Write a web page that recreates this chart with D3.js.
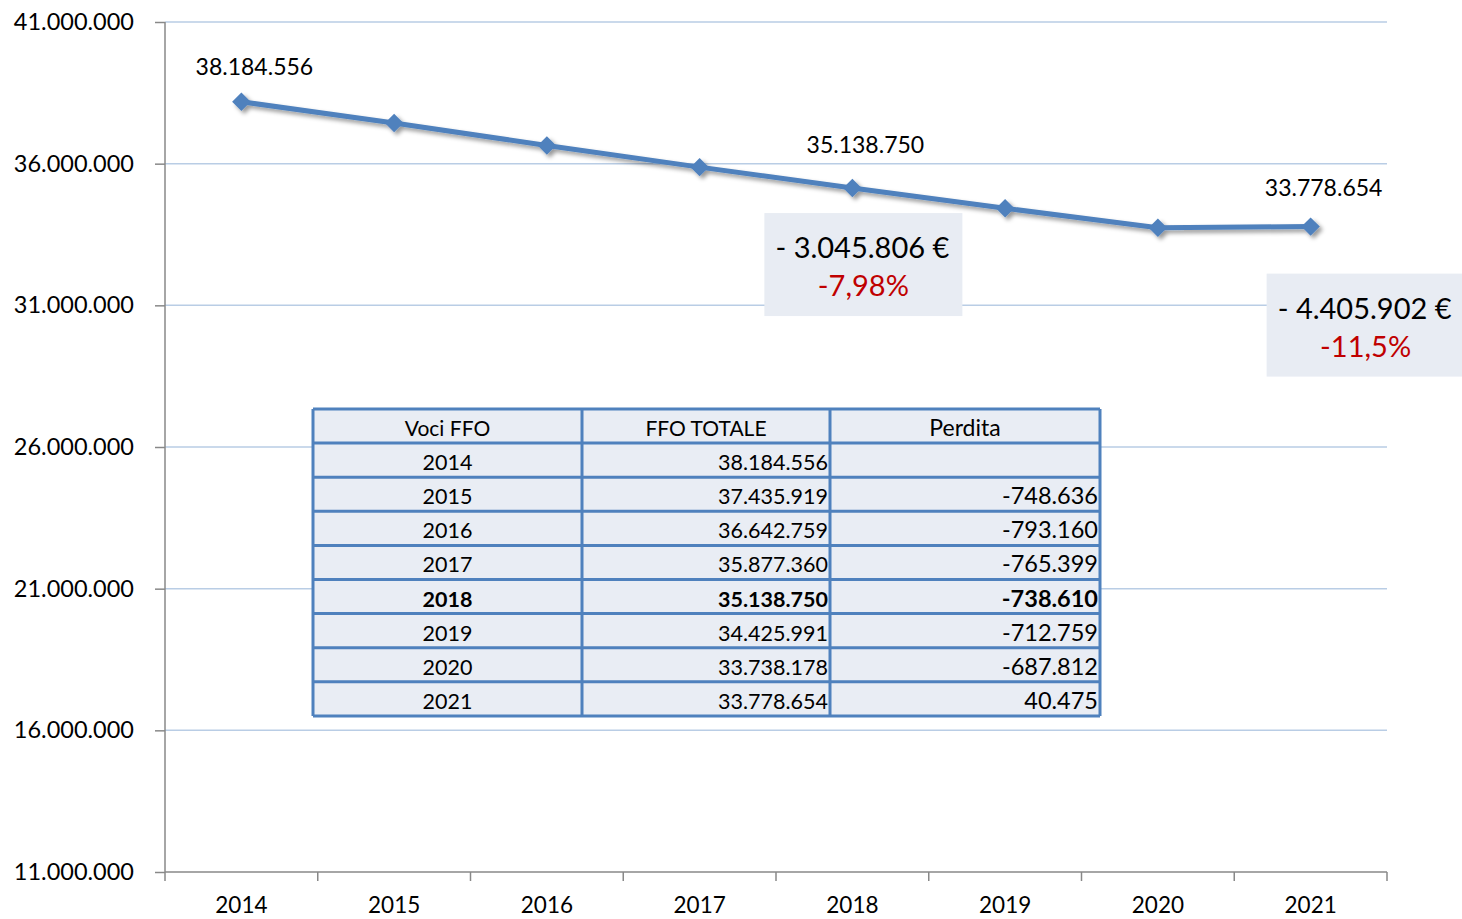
<!DOCTYPE html>
<html>
<head>
<meta charset="utf-8">
<script src="https://cdn.jsdelivr.net/npm/d3@7"></script>
<style>
  body { margin: 0; background: #fff; }
  text { font-family: Lato, "Open Sans", sans-serif; }
</style>
</head>
<body>
<div id="viz"></div>
<script>
const years = ["2014", "2015", "2016", "2017", "2018", "2019", "2020", "2021"];
const ffo = [38184556, 37435919, 36642759, 35877360, 35138750, 34425991, 33738178, 33778654];
const perdita = [null, -748636, -793160, -765399, -738610, -712759, -687812, 40475];
const yTicks = [11000000, 16000000, 21000000, 26000000, 31000000, 36000000, 41000000];
const labelled = ["2014", "2018", "2021"];
const boxes = [
  {at: "2018", loss: "- 3.045.806 €", pct: "-7,98%"},
  {at: "2021", loss: "- 4.405.902 €", pct: "-11,5%"}
];
const tableHead = ["Voci FFO", "FFO TOTALE", "Perdita"];
const boldYear = "2018";

const W = 1462, H = 919;
const m = {left: 165, right: 1387, top: 22, bottom: 872};

const fmt = v => d3.format(",")(v).replace(/,/g, ".").replace("−", "-");

const svg = d3.select("#viz").append("svg")
  .attr("width", W).attr("height", H);

const defs = svg.append("defs");
const f = defs.append("filter").attr("id", "shadow")
  .attr("x", "-10%").attr("y", "-10%").attr("width", "120%").attr("height", "140%");
f.append("feDropShadow").attr("dx", 3).attr("dy", 3).attr("stdDeviation", 2)
  .attr("flood-color", "#000").attr("flood-opacity", 0.4);

const x = d3.scaleBand().domain(years).range([m.left, m.right]);
const y = d3.scaleLinear().domain([11000000, 41000000]).range([m.bottom, m.top]);

// gridlines
svg.append("g").selectAll("line").data(yTicks.slice(1)).join("line")
  .attr("x1", m.left).attr("x2", m.right)
  .attr("y1", d => y(d)).attr("y2", d => y(d))
  .attr("stroke", "#b9cde5").attr("stroke-width", 1.5);

// y axis
const yAxis = svg.append("g").attr("transform", `translate(${m.left},0)`)
  .call(d3.axisLeft(y).tickValues(yTicks).tickSize(10).tickPadding(21).tickFormat(fmt));
yAxis.selectAll("line, path").attr("stroke", "#888").attr("stroke-width", 1.5);
yAxis.select(".domain").attr("d", `M0,${m.top}V${m.bottom}`);
yAxis.selectAll("text").attr("font-size", 23.5).attr("fill", "#000")
  .attr("font-family", "Lato, sans-serif");

// x axis
const xAxis = svg.append("g").attr("transform", `translate(0,${m.bottom})`)
  .call(d3.axisBottom(x).tickSize(0).tickPadding(25));
xAxis.select(".domain").attr("stroke", "#888").attr("stroke-width", 1.5)
  .attr("d", `M${m.left},0H${m.right}`);
xAxis.selectAll("text").attr("font-size", 22.5).attr("fill", "#000")
  .attr("font-family", "Lato, sans-serif");
xAxis.selectAll(".bnd").data(years.concat(["end"])).join("line")
  .attr("x1", (d, i) => m.left + i * x.step()).attr("x2", (d, i) => m.left + i * x.step())
  .attr("y1", 0).attr("y2", 9).attr("stroke", "#888").attr("stroke-width", 1.5);

// line
const cx = d => x(d) + x.bandwidth() / 2;
const lineG = svg.append("g").attr("filter", "url(#shadow)");
lineG.append("path")
  .datum(years.map((d, i) => [cx(d), y(ffo[i])]))
  .attr("d", d3.line())
  .attr("fill", "none").attr("stroke", "#4f81bd").attr("stroke-width", 5)
  .attr("stroke-linejoin", "round");
lineG.selectAll("path.mk").data(years).join("path").attr("class", "mk")
  .attr("transform", (d, i) => `translate(${cx(d)},${y(ffo[i])}) rotate(45)`)
  .attr("d", d3.symbol(d3.symbolSquare, 170)())
  .attr("fill", "#4f81bd");

// data labels
const labelLift = {"2014": 27, "2018": 35, "2021": 31};
svg.append("g").selectAll("text").data(labelled).join("text")
  .attr("x", d => cx(d) + 13)
  .attr("y", d => y(ffo[years.indexOf(d)]) - labelLift[d])
  .attr("text-anchor", "middle").attr("font-size", 23)
  .text(d => fmt(ffo[years.indexOf(d)]));

// annotation boxes
const bw = 198, bh = 103;
const bg = svg.append("g").selectAll("g").data(boxes).join("g")
  .attr("transform", d => `translate(${cx(d.at) - 88 + (d.at === "2021" ? 44 : 0)},${y(ffo[years.indexOf(d.at)]) + (d.at === "2021" ? 47 : 25)})`);
bg.append("rect").attr("width", bw).attr("height", bh).attr("fill", "#e8ecf3");
bg.append("text").attr("x", bw / 2 - 1).attr("y", 45).attr("text-anchor", "middle")
  .attr("font-size", 29).text(d => d.loss);
bg.append("text").attr("x", bw / 2).attr("y", 83).attr("text-anchor", "middle")
  .attr("font-size", 29).attr("fill", "#c00000").text(d => d.pct);

// table
const tx = [313, 582, 830, 1100];
const tTop = 409, rowH = 34.1;
const tbl = svg.append("g");
const nRows = years.length + 1;
tbl.append("rect").attr("x", tx[0]).attr("y", tTop)
  .attr("width", tx[3] - tx[0]).attr("height", rowH * nRows)
  .attr("fill", "#e9edf4");
tbl.selectAll("line.h").data(d3.range(nRows + 1)).join("line")
  .attr("x1", tx[0]).attr("x2", tx[3])
  .attr("y1", i => tTop + i * rowH).attr("y2", i => tTop + i * rowH)
  .attr("stroke", "#4f81bd").attr("stroke-width", 3);
tbl.selectAll("line.v").data(tx).join("line").attr("class", "v")
  .attr("x1", d => d).attr("x2", d => d)
  .attr("y1", tTop).attr("y2", tTop + rowH * nRows)
  .attr("stroke", "#4f81bd").attr("stroke-width", 3);
tbl.selectAll("text.hd").data(tableHead).join("text").attr("class", "hd")
  .attr("x", (d, i) => (tx[i] + tx[i + 1]) / 2)
  .attr("y", tTop + rowH - 7).attr("text-anchor", "middle")
  .attr("font-size", (d, i) => i === 2 ? 23 : 21).text(d => d);
const rows = tbl.selectAll("g.r").data(years).join("g").attr("class", "r")
  .attr("transform", (d, i) => `translate(0,${tTop + (i + 1) * rowH})`)
  .attr("font-weight", d => d === boldYear ? "bold" : null);
rows.append("text").attr("x", (tx[0] + tx[1]) / 2).attr("y", rowH - 7)
  .attr("text-anchor", "middle").attr("font-size", 21.5).text(d => d);
rows.append("text").attr("x", tx[2] - 2).attr("y", rowH - 7)
  .attr("text-anchor", "end").attr("font-size", 21.5).text((d, i) => fmt(ffo[i]));
rows.append("text").attr("x", tx[3] - 2).attr("y", rowH - 7)
  .attr("text-anchor", "end").attr("font-size", 23.5)
  .text((d, i) => perdita[i] === null ? "" : fmt(perdita[i]));
</script>
</body>
</html>
